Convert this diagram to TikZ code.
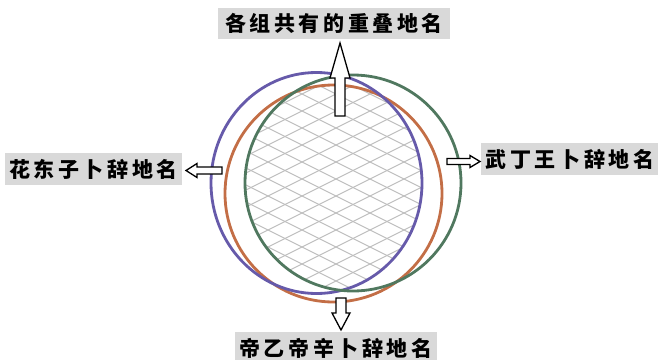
\documentclass[tikz,border=0pt]{standalone}
\usepackage{fontspec}
\newfontfamily\cjk{Noto Sans CJK SC}
\definecolor{cpurple}{HTML}{665AAA}
\definecolor{cbrown}{HTML}{C36E46}
\definecolor{cgreen}{HTML}{50785F}
\definecolor{chatch}{HTML}{BEBEBE}
\definecolor{clabel}{HTML}{D9D9D9}
\newcommand\gq{\hspace{3.6pt}}
\tikzset{
  lab/.style={fill=clabel, inner sep=0pt, font=\cjk\bfseries\fontsize{21pt}{21pt}\selectfont, text=black},
  ring/.style={line width=2.8pt},
  blockarrow/.style={draw=black, fill=white, line width=1.3pt, line join=miter},
  hatchline/.style={draw=chatch, line width=1.1pt}
}
\begin{document}
\begin{tikzpicture}[x=1pt,y=-1pt]
\useasboundingbox (0,0) rectangle (658,359);
% hatched common region
\begin{scope}
  \clip (316.5,183) ellipse [x radius=105.5, y radius=110.5];
  \clip (333.5,193.5) circle [radius=108.5];
  \clip (353,183) circle [radius=108];
  \foreach \c in {-110,-93,...,330} {
    \draw[hatchline] (200,\c) -- (480,\c+140);
  }
  \foreach \c in {60,77,...,500} {
    \draw[hatchline] (200,\c) -- (480,\c-140);
  }
\end{scope}
% circles
\draw[ring, cbrown] (333.5,193.5) circle [radius=108.5];
\draw[ring, cpurple] (316.5,183) ellipse [x radius=105.5, y radius=110.5];
\draw[ring, cgreen] (353,183) circle [radius=108];
% labels
\node[lab, minimum width=232pt, minimum height=31pt] (ltop) at (334,23.5) {各\gq{}组\gq{}共\gq{}有\gq{}的\gq{}重\gq{}叠\gq{}地\gq{}名};
\node[lab, minimum width=177pt, minimum height=32pt] (lleft) at (93.5,169) {花\gq{}东\gq{}子\gq{}卜\gq{}辞\gq{}地\gq{}名};
\node[lab, minimum width=178pt, minimum height=32pt] (lright) at (570,159) {武\gq{}丁\gq{}王\gq{}卜\gq{}辞\gq{}地\gq{}名};
\node[lab, minimum width=202pt, minimum height=32pt] (lbot) at (336,348) {帝\gq{}乙\gq{}帝\gq{}辛\gq{}卜\gq{}辞\gq{}地\gq{}名};
% block arrows
\draw[blockarrow] (335,116) -- (335,78) -- (330,78) -- (340,43) -- (350,78) -- (345,78) -- (345,116) -- cycle;
\draw[blockarrow] (336,298) -- (336,313) -- (332,313) -- (341,330) -- (350,313) -- (346,313) -- (346,298) -- cycle;
\draw[blockarrow] (222,167) -- (197,167) -- (197,163.5) -- (186,170.5) -- (197,177.5) -- (197,174) -- (222,174) -- cycle;
\draw[blockarrow] (447,158.5) -- (470,158.5) -- (470,155.5) -- (480,161.5) -- (470,167.5) -- (470,164.5) -- (447,164.5) -- cycle;
\end{tikzpicture}
\end{document}
